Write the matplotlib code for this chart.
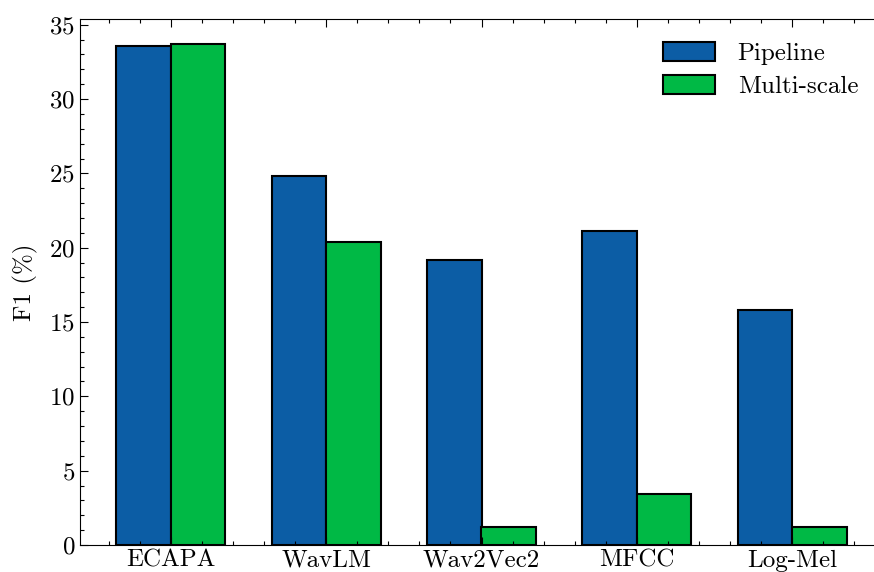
import numpy as np
import matplotlib
matplotlib.use("Agg")
import matplotlib.pyplot as plt
from matplotlib.ticker import MultipleLocator, AutoMinorLocator

# data
models = ["ECAPA", "WavLM", "Wav2Vec2", "MFCC", "Log-Mel"]
pipeline = [33.6, 24.8, 19.2, 21.1, 15.8]
multiscale = [33.7, 20.4, 1.2, 3.4, 1.2]

plt.rcParams["font.family"] = "serif"
plt.rcParams["font.serif"] = ["cmr10", "DejaVu Serif"]
plt.rcParams["axes.formatter.use_mathtext"] = True
plt.rcParams["font.size"] = 18

fig = plt.figure(figsize=(8.74, 5.72), dpi=100)
ax = fig.add_axes([80 / 874, 27 / 572, 803 / 874, 526 / 572])

x = np.arange(len(models))
w = 0.35
ax.bar(x - w / 2, pipeline, w, color="#0C5DA5", edgecolor="black", linewidth=1.5, label="Pipeline")
ax.bar(x + w / 2, multiscale, w, color="#00B945", edgecolor="black", linewidth=1.5, label="Multi-scale")

ax.set_xticks(x)
ax.set_xticklabels(models)
ax.set_ylabel("F1 (%)", labelpad=8)
ax.yaxis.set_major_locator(MultipleLocator(5))
ax.yaxis.set_minor_locator(MultipleLocator(1))
ax.xaxis.set_minor_locator(AutoMinorLocator(5))
ax.tick_params(which="both", direction="in", top=True, right=True, width=0.8)
ax.tick_params(which="major", length=6)
ax.tick_params(which="minor", length=3)
for s in ax.spines.values():
    s.set_linewidth(0.8)

ax.legend(frameon=False, loc="upper right", handlelength=2.1, handleheight=0.8,
          handletextpad=0.9, labelspacing=0.4, bbox_to_anchor=(0.997, 1.0))

fig.savefig("out.png", dpi=100)
